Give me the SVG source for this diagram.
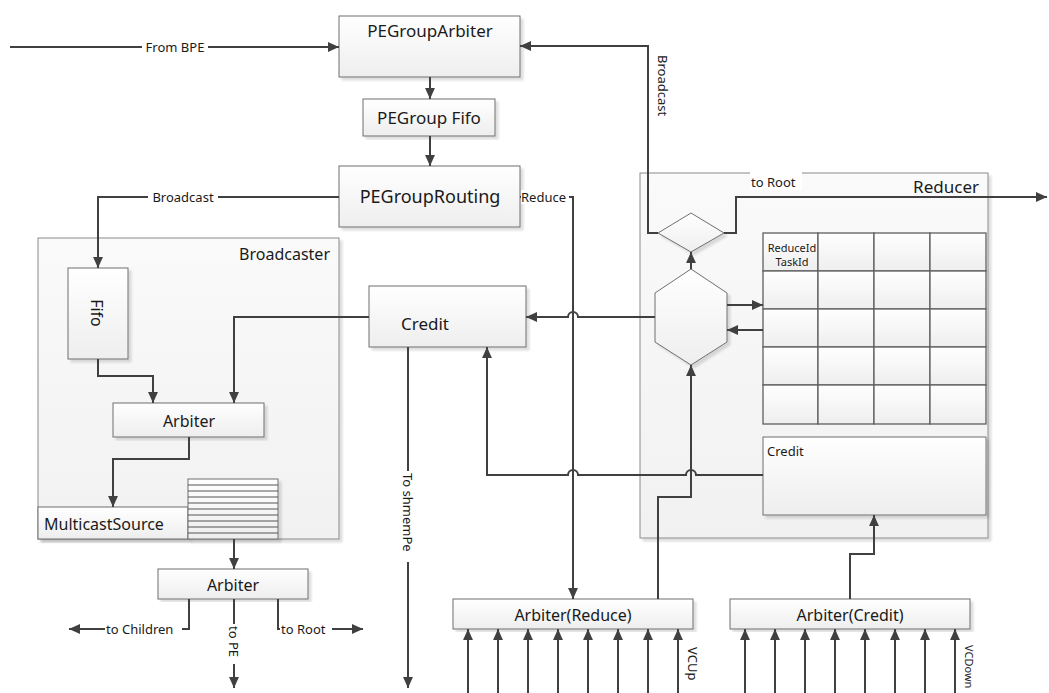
<svg xmlns="http://www.w3.org/2000/svg" width="1049" height="693" viewBox="0 0 1049 693">
<defs>
<linearGradient id="g" x1="0" y1="0" x2="0" y2="1"><stop offset="0" stop-color="#ffffff"/><stop offset="1" stop-color="#eeeeee"/></linearGradient>
<linearGradient id="gc" x1="0" y1="0" x2="0" y2="1"><stop offset="0" stop-color="#fafafa"/><stop offset="1" stop-color="#f1f1f1"/></linearGradient>
<filter id="sh" x="-5%" y="-5%" width="115%" height="115%"><feDropShadow dx="3" dy="3" stdDeviation="0.8" flood-color="#000" flood-opacity="0.13"/></filter>
<marker id="a" viewBox="0 0 10 10" refX="10" refY="5" markerWidth="11" markerHeight="11" markerUnits="userSpaceOnUse" orient="auto"><path d="M0,0.5 L10,5 L0,9.5 z" fill="#404040"/></marker>
</defs>
<style>
.box{fill:url(#g);stroke:#6f6f6f;stroke-width:1;filter:url(#sh)}
.cont{fill:url(#gc);stroke:#8a8a8a;stroke-width:1;filter:url(#sh)}
.cell{fill:url(#g);stroke:#5f5f5f;stroke-width:1.3}
.c{fill:none;stroke:#404040;stroke-width:2}
.ca{fill:none;stroke:#404040;stroke-width:2;marker-end:url(#a)}
text{font-family:"Noto Sans","DejaVu Sans",sans-serif;fill:#1a1a1a}
.t16{font-size:16px}
.t17{font-size:17px}
.s{font-size:13px}
.xs{font-size:11px}
.m{text-anchor:middle}
.bg{fill:#ffffff}
</style>

<g id="broadcaster">
<rect class="cont" x="38" y="238" width="301" height="301"/>
<text class="t16" x="330" y="260" text-anchor="end">Broadcaster</text>
</g>
<g id="reducer">
<rect class="cont" x="640" y="173" width="348" height="365"/>
<text class="t17" x="979" y="193" text-anchor="end">Reducer</text>
</g>

<g id="pegrouparbiter"><rect class="box" x="339" y="16" width="181" height="61"/><text class="t17 m" x="430" y="37">PEGroupArbiter</text></g>
<g id="pegroupfifo"><rect class="box" x="363" y="99" width="132" height="37"/><text class="t17 m" x="429" y="124">PEGroup Fifo</text></g>
<g id="pegrouprouting"><rect class="box" x="339" y="166" width="181" height="61"/><text class="t17 m" x="430" y="203" style="font-size:18px">PEGroupRouting</text></g>

<g id="fifo"><rect class="box" x="68" y="268" width="60" height="91"/><text class="t16 m" transform="translate(91,313) rotate(90)">Fifo</text></g>
<g id="arbiter-b"><rect class="box" x="113" y="403" width="151" height="34"/><text class="t16 m" x="189" y="427">Arbiter</text></g>
<g id="multicastsource"><rect class="box" x="38" y="507" width="150" height="32"/><text class="t16" x="44" y="530">MulticastSource</text></g>
<g id="queue">
<rect class="box" x="188" y="479" width="90" height="60"/>
<path d="M188,485H278M188,491H278M188,497H278M188,503H278M188,509H278M188,515H278M188,521H278M188,527H278M188,533H278" stroke="#555" stroke-width="1" fill="none"/>
</g>
<g id="arbiter-out"><rect class="box" x="158" y="569" width="150" height="30"/><text class="t16 m" x="233" y="591">Arbiter</text></g>

<g id="credit"><rect class="box" x="369" y="286" width="157" height="61"/><text class="t17 m" x="425" y="330">Credit</text></g>

<g id="decision"><polygon class="box" points="691,213 724,233 691,252 658,233"/></g>
<g id="reduce-logic"><polygon class="box" points="691,269 727,293 727,342 691,365 655,342 655,293"/></g>

<g id="table">
<rect class="cell" x="763" y="233" width="55" height="38"/><rect class="cell" x="818" y="233" width="56" height="38"/><rect class="cell" x="874" y="233" width="56" height="38"/><rect class="cell" x="930" y="233" width="56" height="38"/>
<rect class="cell" x="763" y="271" width="55" height="38"/><rect class="cell" x="818" y="271" width="56" height="38"/><rect class="cell" x="874" y="271" width="56" height="38"/><rect class="cell" x="930" y="271" width="56" height="38"/>
<rect class="cell" x="763" y="309" width="55" height="38"/><rect class="cell" x="818" y="309" width="56" height="38"/><rect class="cell" x="874" y="309" width="56" height="38"/><rect class="cell" x="930" y="309" width="56" height="38"/>
<rect class="cell" x="763" y="347" width="55" height="38"/><rect class="cell" x="818" y="347" width="56" height="38"/><rect class="cell" x="874" y="347" width="56" height="38"/><rect class="cell" x="930" y="347" width="56" height="38"/>
<rect class="cell" x="763" y="385" width="55" height="39"/><rect class="cell" x="818" y="385" width="56" height="39"/><rect class="cell" x="874" y="385" width="56" height="39"/><rect class="cell" x="930" y="385" width="56" height="39"/>
<text class="xs m" x="792" y="252">ReduceId</text>
<text class="xs m" x="792" y="266">TaskId</text>
</g>

<g id="reducer-credit"><rect class="box" x="763" y="437" width="223" height="78"/><text class="s" x="767" y="456">Credit</text></g>

<g id="arbiter-reduce"><rect class="box" x="453" y="599" width="240" height="30"/><text class="t16 m" x="573" y="621">Arbiter(Reduce)</text></g>
<g id="arbiter-credit"><rect class="box" x="730" y="599" width="240" height="30"/><text class="t16 m" x="850" y="621">Arbiter(Credit)</text></g>

<g id="connectors">
<path class="ca" d="M10,47H339"/>
<rect class="bg" x="142" y="40" width="66" height="14"/>
<text class="s m" x="175" y="52">From BPE</text>

<path class="ca" d="M658,233H648V46H520"/>
<text class="s" transform="translate(658,55) rotate(90)">Broadcast</text>

<path class="ca" d="M724,233H736V197H1047"/>
<rect class="bg" x="750" y="168" width="52" height="22"/>
<text class="s" x="751" y="187">to Root</text>

<path class="ca" d="M430,77V99"/>
<path class="ca" d="M430,136V166"/>

<path class="ca" d="M339,197H98V268"/>
<rect class="bg" x="148" y="190" width="70" height="14"/>
<text class="s m" x="183" y="202">Broadcast</text>

<path class="ca" d="M520,197H573V599"/>
<rect class="bg" x="521" y="190" width="48" height="14"/>
<text class="s" x="521" y="202">Reduce</text>

<path class="ca" d="M655,317H578a5,5 0 0 0 -10,0H526"/>
<path class="ca" d="M369,317H234V403"/>
<path class="ca" d="M98,359V376H153V403"/>
<path class="ca" d="M189,437V459H113V507"/>
<path class="ca" d="M234,539V569"/>

<path class="ca" d="M189,599V629H69"/>
<rect class="bg" x="105" y="622" width="77" height="14"/>
<text class="s" x="106" y="634">to Children</text>

<path class="ca" d="M234,599V688"/>
<rect class="bg" x="226" y="624" width="15" height="40"/>
<text class="s" transform="translate(229,626) rotate(90)">to PE</text>

<path class="ca" d="M278,599V629H363"/>
<rect class="bg" x="280" y="622" width="52" height="14"/>
<text class="s" x="281" y="634">to Root</text>

<path class="ca" d="M408,347V688"/>
<rect class="bg" x="400" y="471" width="17" height="91"/>
<text class="s" transform="translate(403,473) rotate(90)">To shmemPe</text>

<path class="ca" d="M763,475H696a5,5 0 0 0 -10,0H578a5,5 0 0 0 -10,0H487V347"/>
<path class="ca" d="M658,599V497H691V365"/>
<path class="ca" d="M691,269V252"/>
<path class="ca" d="M727,305H763"/>
<path class="ca" d="M763,330H727"/>
<path class="ca" d="M850,599V554H874V515"/>

<path class="ca" d="M468,693V629"/><path class="ca" d="M498,693V629"/><path class="ca" d="M528,693V629"/><path class="ca" d="M558,693V629"/>
<path class="ca" d="M588,693V629"/><path class="ca" d="M618,693V629"/><path class="ca" d="M648,693V629"/><path class="ca" d="M678,693V629"/>
<text class="s" transform="translate(688,647) rotate(90)">VCUp</text>

<path class="ca" d="M745,693V629"/><path class="ca" d="M775,693V629"/><path class="ca" d="M805,693V629"/><path class="ca" d="M835,693V629"/>
<path class="ca" d="M865,693V629"/><path class="ca" d="M895,693V629"/><path class="ca" d="M925,693V629"/><path class="ca" d="M955,693V629"/>
<text class="xs" transform="translate(965,645) rotate(90)">VCDown</text>
</g>
</svg>
